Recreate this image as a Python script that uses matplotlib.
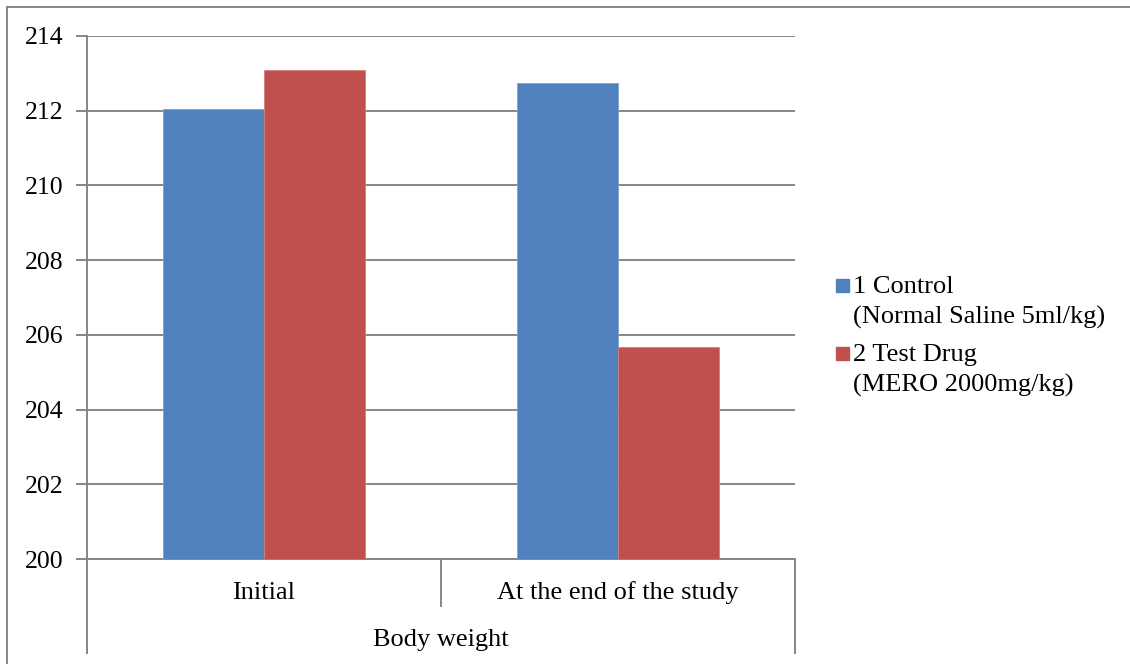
import matplotlib.pyplot as plt
from matplotlib.patches import Rectangle
from matplotlib.lines import Line2D
import numpy as np

# body weight (g) per group
categories = ["Initial", "At the end of the study"]
group_title = "Body weight"
series_names = ["1 Control\n(Normal Saline 5ml/kg)", "2 Test Drug\n(MERO 2000mg/kg)"]
control = [212.04, 212.73]
test_drug = [213.08, 205.68]
y_ticks = [200, 202, 204, 206, 208, 210, 212, 214]

colors = ["#4F81BD", "#C0504D"]
gray = "#868686"
fs = 19

plt.rcParams["font.family"] = ["Liberation Serif", "DejaVu Serif"]

W, H = 1130, 664
fig = plt.figure(figsize=(W / 100, H / 100), dpi=100)

def px(xp, yp):
    # pixel position (from top-left) -> figure fraction
    return xp / W, 1 - yp / H

# outer chart frame (top and left only are inside the image)
fig.add_artist(Line2D([7 / W, 1], [1 - 7 / H, 1 - 7 / H], color=gray, lw=1.4))
fig.add_artist(Line2D([7 / W, 7 / W], [0, 1 - 7 / H], color=gray, lw=1.4))

ax = fig.add_axes([87 / W, 105 / H, 708 / W, 523 / H])

x = np.arange(len(categories)) + 0.5
bw = 0.285
ax.bar(x - bw / 2, np.array(control) - 200, bw, bottom=200, color=colors[0],
       edgecolor="#7FA3D0", linewidth=0.6, zorder=3)
ax.bar(x + bw / 2, np.array(test_drug) - 200, bw, bottom=200, color=colors[1],
       edgecolor="#D27F7D", linewidth=0.6, zorder=3)

ax.set_xlim(0, len(categories))
ax.set_ylim(200, 214)
ax.set_yticks(y_ticks)
ax.set_yticklabels([str(t) for t in y_ticks], fontsize=fs - 0.5)
ax.yaxis.grid(True, color=gray, lw=1.4, zorder=0)
ax.tick_params(axis="y", length=8, width=1.4, color=gray, pad=9)
ax.set_xticks([])

for s in ["top", "right"]:
    ax.spines[s].set_visible(False)
for s in ["left", "bottom"]:
    ax.spines[s].set_color(gray)
    ax.spines[s].set_linewidth(1.4)

# two-level category axis below the plot
lvl1 = -47 / 523
lvl2 = -94 / 523
tr = ax.transAxes
for xi in range(len(categories) + 1):
    xa = xi / len(categories)
    bottom = lvl2 if xi in (0, len(categories)) else lvl1
    ax.add_line(Line2D([xa, xa], [0, bottom], transform=tr, color=gray,
                       lw=1.4, clip_on=False))
for xi, name in zip(x, categories):
    fig.text(px(87 + 708 * xi / len(categories), 599)[0], px(0, 599)[1], name,
             ha="center", va="baseline", fontsize=fs)
fig.text(px(441, 646)[0], px(0, 646)[1], group_title, ha="center",
         va="baseline", fontsize=fs)

# legend on the right
for i, (name, c) in enumerate(zip(series_names, colors)):
    base = 293 + i * 68
    x0, y0 = px(836, base - 1)
    fig.add_artist(Rectangle((x0, y0), 13 / W, 13 / H, color=c,
                             transform=fig.transFigure))
    first, second = name.split("\n")
    fig.text(px(853, 0)[0], px(0, base)[1], first, fontsize=fs, va="baseline")
    fig.text(px(853, 0)[0], px(0, base + 31)[1], second, fontsize=fs,
             va="baseline")

fig.savefig("out.png", dpi=100)
